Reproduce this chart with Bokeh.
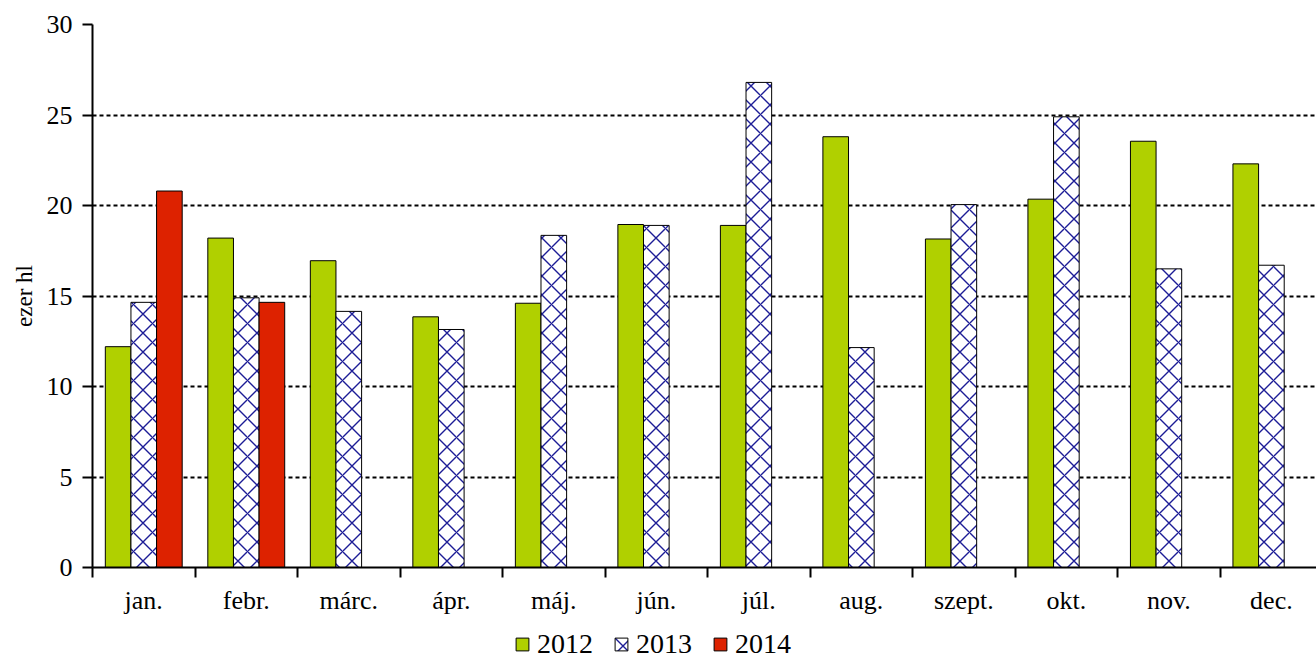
from bokeh.plotting import figure
from bokeh.models import (ColumnDataSource, FixedTicker, Legend, LegendItem, Range1d)
from bokeh.layouts import column
from bokeh.embed import file_html
from bokeh.resources import INLINE

months = ["jan.", "febr.", "márc.", "ápr.", "máj.", "jún.", "júl.", "aug.", "szept.", "okt.", "nov.", "dec."]
y2012 = [12.2, 18.2, 16.95, 13.85, 14.6, 18.95, 18.9, 23.8, 18.15, 20.35, 23.55, 22.3]
y2013 = [14.65, 14.9, 14.15, 13.15, 18.35, 18.9, 26.8, 12.15, 20.05, 24.9, 16.5, 16.7]
y2014 = [20.8, 14.65]
series = ["2012", "2013", "2014"]
y_ticks = [0, 5, 10, 15, 20, 25, 30]

FONT = "'Liberation Serif', serif"
GREEN = "#B0D000"
RED = "#DD2200"
HATCH = "#1C1C96"

bar_w = 0.25
offsets = [-0.25, 0.0, 0.25]

styles = [dict(fill_color=GREEN, line_color="black", line_width=1),
          dict(fill_color="white", line_color="black", line_width=1,
               hatch_pattern="diagonal_cross", hatch_color=HATCH,
               hatch_scale=19, hatch_weight=1.4),
          dict(fill_color=RED, line_color="black", line_width=1)]

def xs(n, off):
    return [i + 0.5 + off for i in range(n)]

p = figure(width=1316, height=624, output_backend="svg", toolbar_location=None,
           x_range=Range1d(0, 11.94), y_range=Range1d(0, 30),
           min_border_left=92, min_border_right=0, min_border_top=24, min_border_bottom=57)
p.outline_line_color = None
p.background_fill_color = "white"

for vals, off, st in zip([y2012, y2013, y2014], offsets, styles):
    src = ColumnDataSource(dict(x=xs(len(vals), off), top=vals))
    p.vbar(x="x", top="top", width=bar_w, source=src, **st)

# grid
p.xgrid.grid_line_color = None
p.ygrid.ticker = FixedTicker(ticks=y_ticks)
p.ygrid.grid_line_color = "black"
p.ygrid.grid_line_width = 2
p.ygrid.grid_line_dash = "4 3"
p.ygrid.level = "underlay"

# y axis
ya = p.yaxis[0]
ya.ticker = FixedTicker(ticks=y_ticks)
ya.axis_line_width = 2
ya.axis_line_color = "black"
ya.major_tick_line_width = 2
ya.major_tick_out = 10
ya.major_tick_in = 0
ya.minor_tick_line_color = None
ya.major_label_text_font = FONT
ya.major_label_text_font_size = "26px"
ya.major_label_text_color = "black"
ya.major_label_standoff = 10
ya.axis_label = "ezer hl"
ya.axis_label_text_font = FONT
ya.axis_label_text_font_size = "23px"
ya.axis_label_text_font_style = "normal"
ya.axis_label_text_color = "black"
ya.axis_label_standoff = 7

# x axis
xa = p.xaxis[0]
centers = [i + 0.5 for i in range(len(months))]
xa.ticker = FixedTicker(ticks=centers, minor_ticks=list(range(len(months) + 1)))
xa.major_label_overrides = {c: m for c, m in zip(centers, months)}
xa.axis_line_width = 2
xa.axis_line_color = "black"
xa.major_tick_line_color = None
xa.major_tick_out = 10
xa.major_tick_in = 0
xa.minor_tick_line_color = "black"
xa.minor_tick_line_width = 2
xa.minor_tick_out = 10
xa.minor_tick_in = 0
xa.major_label_text_font = FONT
xa.major_label_text_font_size = "26px"
xa.major_label_text_color = "black"
xa.major_label_standoff = 8

# legend strip (swatch renderers sit outside the strip's visible range)
lg = figure(width=1316, height=36, output_backend="svg", toolbar_location=None,
            x_range=Range1d(0, 1), y_range=Range1d(0, 1),
            x_axis_location=None, y_axis_location=None,
            min_border_left=0, min_border_right=0, min_border_top=0, min_border_bottom=0)
lg.grid.visible = False
lg.outline_line_color = None
items = []
for name, st in zip(series, styles):
    r = lg.vbar(x=[-10], top=[0], width=bar_w, **st)
    items.append(LegendItem(label=name, renderers=[r]))
legend = Legend(items=items, location=(422, 0), orientation="horizontal",
                glyph_width=16, glyph_height=16, label_standoff=7, spacing=20,
                padding=0, margin=0, border_line_color=None, background_fill_alpha=0,
                label_text_font=FONT, label_text_font_size="28px", label_text_color="black")
lg.add_layout(legend, "center")

layout = column(p, lg, spacing=0)
html = file_html(layout, INLINE)
open("out.html", "w").write(html)
